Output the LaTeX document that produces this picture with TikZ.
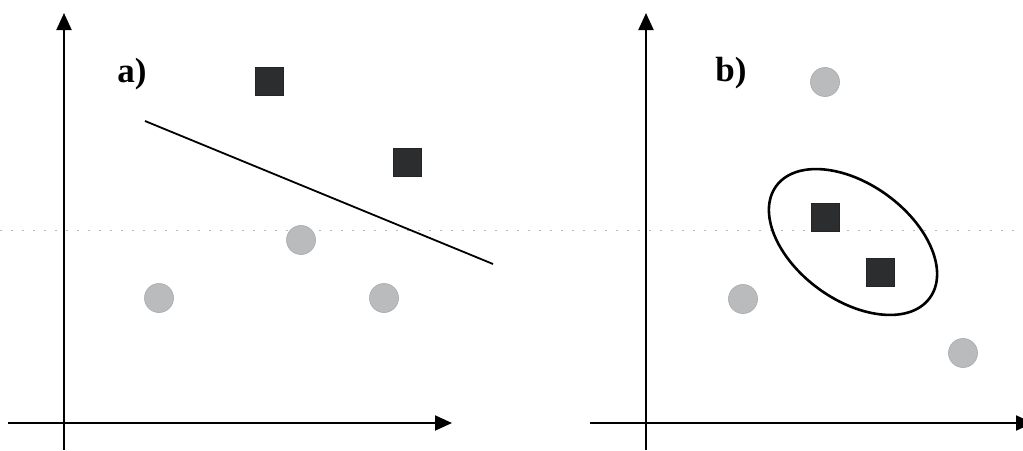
\documentclass[tikz,border=0pt]{standalone}
\usepackage{fontspec}
\setmainfont{Liberation Serif}
\usetikzlibrary{arrows.meta}
\definecolor{sqfill}{HTML}{2B2D2E}
\definecolor{cifill}{HTML}{B9BBBD}
\tikzset{
  axis/.style={line width=2pt, -{Triangle[length=17pt,width=15pt]}},
  sq/.style={rectangle, fill=sqfill, draw=sqfill!80!black, line width=0.6pt, minimum size=28pt, inner sep=0pt},
  pt/.style={circle, fill=cifill, draw=cifill!90!black, line width=0.6pt, minimum size=29pt, inner sep=0pt},
  lbl/.style={font=\bfseries\fontsize{35}{35}\selectfont, inner sep=0pt},
  sepline/.style={line width=1.8pt},
  noise/.style={gray!55, line width=1pt, dash pattern=on 2pt off 9pt}
}
\begin{document}
\begin{tikzpicture}[x=1pt,y=-1pt]
\clip (0,0) rectangle (1023,450);
\fill[white] (0,0) rectangle (1023,450);
% faint scan line
\coordinate (n1) at (0,230);
\coordinate (n2) at (1023,230);
\draw[noise] (n1) -- (n2);
% ---------- panel a ----------
\coordinate (ay0) at (64,450);
\coordinate (ay1) at (64,13);
\coordinate (ax0) at (8,423);
\coordinate (ax1) at (452,423);
\draw[axis] (ay0) -- (ay1);
\draw[axis] (ax0) -- (ax1);
\node[lbl] (la) at (132,74) {a)};
\node[sq] (a1) at (269,81) {};
\node[sq] (a2) at (407,162) {};
\node[pt] (a3) at (301,240) {};
\node[pt] (a4) at (159,298) {};
\node[pt] (a5) at (384,298) {};
\coordinate (s0) at (145,121);
\coordinate (s1) at (493,264);
\draw[sepline] (s0) -- (s1);
% ---------- panel b ----------
\coordinate (by0) at (646,450);
\coordinate (by1) at (646,13);
\coordinate (bx0) at (590,423);
\coordinate (bx1) at (1033,423);
\draw[axis] (by0) -- (by1);
\draw[axis] (bx0) -- (bx1);
\node[lbl] (lb) at (731,73) {b)};
\node[pt] (b1) at (825,82) {};
\node[sq] (b2) at (825,217) {};
\node[sq] (b3) at (880,272) {};
\node[pt] (b4) at (743,299) {};
\node[pt] (b5) at (963,353) {};
\coordinate (ec) at (853,242);
\draw[line width=2.6pt, rotate around={-36:(ec)}] (ec) ellipse [x radius=95, y radius=58];
\end{tikzpicture}
\end{document}
